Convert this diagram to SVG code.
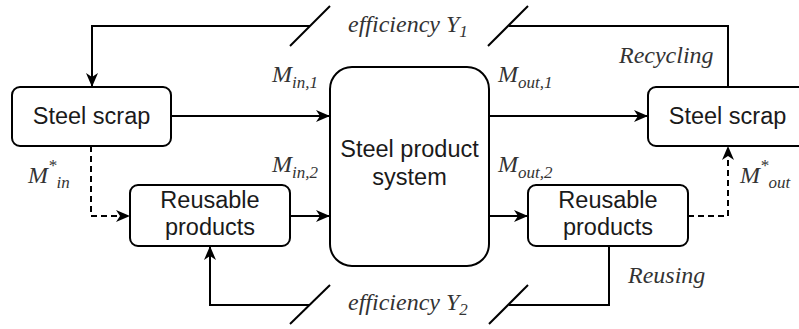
<svg xmlns="http://www.w3.org/2000/svg" width="799" height="329" viewBox="0 0 799 329">
<defs>
<style>
.box{fill:#fff;stroke:#000;stroke-width:2}
.lbl{font-family:"Liberation Sans",Arial,sans-serif;font-size:23.5px;fill:#1a1a1a;text-anchor:middle}
.it{font-family:"Liberation Serif","Times New Roman",serif;font-style:italic;font-size:24px;fill:#333}
.sub{font-size:17px}
.edge{fill:none;stroke:#000;stroke-width:2}
.dash{stroke-dasharray:6 4}
.tick{stroke:#000;stroke-width:2}
</style>
<marker id="arr" viewBox="0 0 14 12" refX="14" refY="6" markerWidth="14" markerHeight="12" markerUnits="userSpaceOnUse" orient="auto">
<path d="M0,0 L14,6 L0,12 L4,6 Z" fill="#000"/>
</marker>
</defs>
<rect width="799" height="329" fill="#fff"/>
<g id="connectors">
<path class="edge" d="M728,87 V26 H509"/>
<path class="edge" d="M310,26 H92 V87" marker-end="url(#arr)"/>
<line class="tick" x1="290" y1="46" x2="330" y2="6"/>
<line class="tick" x1="488" y1="46" x2="528" y2="6"/>
<path class="edge" d="M609,246 V305 H509"/>
<path class="edge" d="M310,305 H210 V246" marker-end="url(#arr)"/>
<line class="tick" x1="290" y1="324" x2="330" y2="285"/>
<line class="tick" x1="489" y1="324" x2="528" y2="285"/>
<path class="edge" d="M171,116 H330" marker-end="url(#arr)"/>
<path class="edge" d="M489,116 H648" marker-end="url(#arr)"/>
<path class="edge" d="M290,216 H330" marker-end="url(#arr)"/>
<path class="edge" d="M489,216 H528" marker-end="url(#arr)"/>
<path class="edge dash" d="M91,146 V216 H130" marker-end="url(#arr)"/>
<path class="edge dash" d="M688,216 H728 V146" marker-end="url(#arr)"/>
</g>
<g id="labels">
<text class="it" x="348" y="32">efficiency Y<tspan class="sub" dy="5">1</tspan></text>
<text class="it" x="348" y="310">efficiency Y<tspan class="sub" dy="5">2</tspan></text>
<text class="it" x="619" y="63">Recycling</text>
<text class="it" x="628" y="283">Reusing</text>
<text class="it" x="272" y="82">M<tspan class="sub" dy="6">in,1</tspan></text>
<text class="it" x="272" y="172">M<tspan class="sub" dy="6">in,2</tspan></text>
<text class="it" x="498" y="82">M<tspan class="sub" dy="6">out,1</tspan></text>
<text class="it" x="498" y="172">M<tspan class="sub" dy="6">out,2</tspan></text>
<text class="it" x="28" y="183">M<tspan class="sub" dy="-12">*</tspan><tspan class="sub" dy="17">in</tspan></text>
<text class="it" x="740" y="183">M<tspan class="sub" dy="-12">*</tspan><tspan class="sub" dy="17">out</tspan></text>
</g>
<g id="node-scrap-in">
<rect class="box" x="12" y="87" width="159" height="59" rx="8"/>
<text class="lbl" x="91.5" y="124">Steel scrap</text>
</g>
<g id="node-system">
<rect class="box" x="330" y="67" width="159" height="199" rx="22"/>
<text class="lbl" x="409.5" y="157">Steel product</text>
<text class="lbl" x="409.5" y="185">system</text>
</g>
<g id="node-scrap-out">
<rect class="box" x="648" y="87" width="159" height="59" rx="8"/>
<text class="lbl" x="727.5" y="124">Steel scrap</text>
</g>
<g id="node-reuse-in">
<rect class="box" x="130" y="185" width="160" height="61" rx="8"/>
<text class="lbl" x="210" y="208">Reusable</text>
<text class="lbl" x="210" y="235">products</text>
</g>
<g id="node-reuse-out">
<rect class="box" x="528" y="185" width="160" height="61" rx="8"/>
<text class="lbl" x="608" y="208">Reusable</text>
<text class="lbl" x="608" y="235">products</text>
</g>
</svg>
